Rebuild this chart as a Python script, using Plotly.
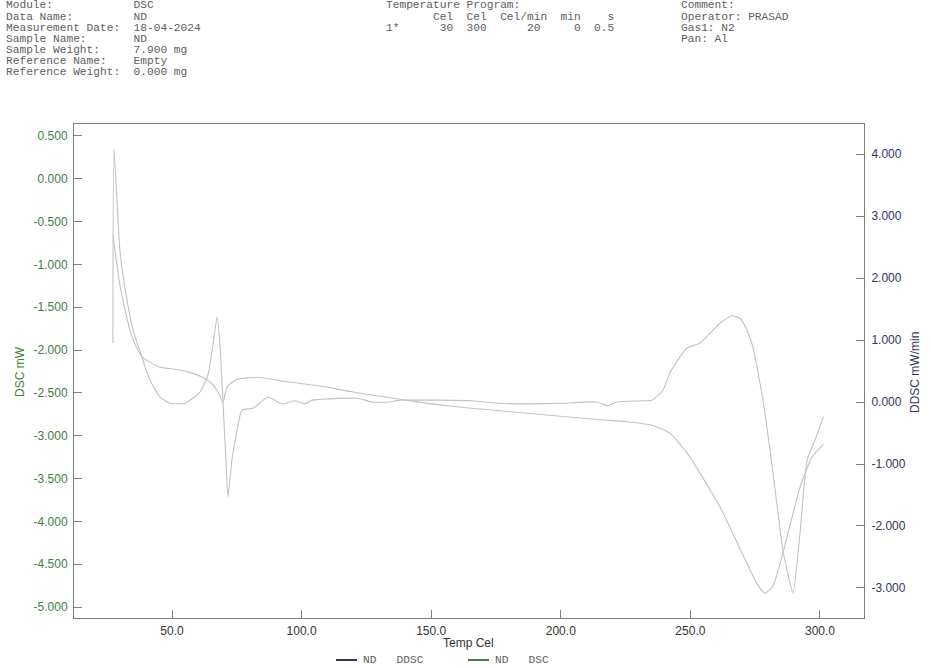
import plotly.graph_objects as go

# ---------------- data ----------------
ddsc_temp = [27.2, 27.6, 29.9, 32.6, 35.0, 37.7, 41.5, 45.4, 49.2, 55.0, 60.8, 63.9, 65.8, 67.4,
             68.5, 69.7, 70.8, 71.6, 73.1, 75.1, 77.0, 81.3, 87.0, 92.4, 97.5, 101.3, 104.0,
             121.4, 127.5, 134.1, 138.0, 146.8, 153.4, 166.1, 175.4, 188.1, 200.8, 214.0,
             218.2, 221.7, 231.7, 235.2, 239.4, 242.1, 245.2, 248.7, 253.7, 257.6, 261.4,
             266.0, 269.1, 271.8, 274.1, 278.0, 281.9, 285.7, 289.6, 292.3, 295.0, 298.1, 301.3]
ddsc_val = [0.95, 4.08, 2.45, 1.65, 1.16, 0.81, 0.35, 0.08, -0.02, -0.02, 0.16, 0.44, 0.92, 1.37,
            0.92, -0.02, -0.94, -1.53, -0.94, -0.45, -0.13, -0.10, 0.08, -0.03, 0.02, -0.03, 0.03,
            0.06, 0.0, 0.0, 0.03, 0.03, 0.03, 0.02, -0.02, -0.03, -0.02, 0.0,
            -0.06, 0.0, 0.02, 0.03, 0.19, 0.47, 0.68, 0.87, 0.95, 1.11, 1.27,
            1.39, 1.35, 1.16, 0.89, 0.03, -1.15, -2.39, -3.08, -2.11, -0.94, -0.61, -0.24]

dsc_temp = [27.2, 28.8, 29.9, 31.9, 33.8, 36.5, 38.8, 45.4, 50.4, 56.9, 62.0, 65.4, 67.7, 69.7,
            71.2, 75.1, 84.0, 94.4, 107.1, 119.8, 132.9, 145.7, 153.4, 162.3, 188.1, 214.0,
            226.7, 235.6, 242.1, 248.7, 261.4, 271.8, 276.1, 278.8, 281.9, 285.7, 292.3, 296.9, 301.3]
dsc_val = [-0.66, -1.01, -1.24, -1.53, -1.77, -1.98, -2.09, -2.20, -2.22, -2.26, -2.32, -2.39, -2.49, -2.61,
           -2.43, -2.34, -2.32, -2.37, -2.42, -2.49, -2.55, -2.61, -2.64, -2.67, -2.74, -2.81,
           -2.84, -2.88, -2.97, -3.20, -3.83, -4.49, -4.75, -4.84, -4.75, -4.37, -3.60, -3.25, -3.10]

x_ticks = [50, 100, 150, 200, 250, 300]
dsc_ticks = [0.5, 0.0, -0.5, -1.0, -1.5, -2.0, -2.5, -3.0, -3.5, -4.0, -4.5, -5.0]
ddsc_ticks = [4, 3, 2, 1, 0, -1, -2, -3]

header_labels = ["Module:", "Data Name:", "Measurement Date:", "Sample Name:",
                 "Sample Weight:", "Reference Name:", "Reference Weight:"]
header_values = ["DSC", "ND", "18-04-2024", "ND", "7.900 mg", "Empty", "0.000 mg"]
program_lines = ["Temperature Program:",
                 "       Cel  Cel  Cel/min  min    s",
                 "1*      30  300      20     0  0.5"]
comment_lines = ["Comment:", "Operator: PRASAD", "Gas1: N2", "Pan: Al"]
legend_names = ["ND   DDSC", "ND   DSC"]

# ---------------- layout geometry (pixel coords) ----------------
W, H = 931, 668
L, R, T, B = 74, 864, 124, 618
PW, PH = R - L, B - T

def px(x):
    return (x - L) / PW

def py(y):
    return (B - y) / PH

def nb(s):
    return s.replace(" ", "\u00a0")

CURVE = "#c2c2c2"
GREEN = "#3f803f"
NAVY = "#34345e"
AXIS = "#808080"
HDR = "#5e5e5e"
MONO = "Liberation Mono, Courier New"
SANS = "Liberation Sans, Arial"

fig = go.Figure()
fig.add_trace(go.Scatter(x=ddsc_temp, y=ddsc_val, mode="lines", yaxis="y2", name="ND DDSC",
                         line=dict(color=CURVE, width=1.1, shape="spline", smoothing=0.5),
                         showlegend=False, hoverinfo="skip"))
fig.add_trace(go.Scatter(x=dsc_temp, y=dsc_val, mode="lines", yaxis="y", name="ND DSC",
                         line=dict(color=CURVE, width=1.1, shape="spline", smoothing=0.5),
                         showlegend=False, hoverinfo="skip"))

def fmt(v, d):
    return f"{v:.{d}f}"

ann = []
for i, (lab, val) in enumerate(zip(header_labels, header_values)):
    ann.append(dict(text=nb(lab.ljust(19) + val), x=px(5), y=py(5.5 + 11.15 * i)))
for i, s in enumerate(program_lines):
    ann.append(dict(text=nb(s), x=px(385), y=py(5.5 + 11.15 * i)))
for i, s in enumerate(comment_lines):
    ann.append(dict(text=nb(s), x=px(680), y=py(5.5 + 11.15 * i)))
for a in ann:
    a.update(xref="paper", yref="paper", xanchor="left", yanchor="middle", showarrow=False,
             borderpad=0, font=dict(family=MONO, size=11.2, color=HDR))

ann.append(dict(text="DSC mW", x=px(20), y=py(372), xref="paper", yref="paper", textangle=-90,
                xanchor="center", yanchor="middle",
                showarrow=False, font=dict(family=SANS, size=12, color=GREEN)))
ann.append(dict(text="DDSC mW/min", x=px(915), y=py(372), xref="paper", yref="paper", textangle=-90,
                xanchor="center", yanchor="middle",
                showarrow=False, font=dict(family=SANS, size=12, color=NAVY)))
ann.append(dict(text="Temp Cel", x=px(468), y=py(643), xref="paper", yref="paper",
                xanchor="center", yanchor="middle",
                showarrow=False, font=dict(family=SANS, size=12, color="#333333")))

# manual legend (line swatch + text)
shapes = []
leg_items = [(336, 357, 362, NAVY, legend_names[0]), (468, 489, 494, GREEN, legend_names[1])]
for x0, x1, xt, col, name in leg_items:
    shapes.append(dict(type="line", xref="paper", yref="paper", x0=px(x0), x1=px(x1),
                       y0=py(660), y1=py(660), line=dict(color=col, width=2)))
    ann.append(dict(text=nb(name), x=px(xt), y=py(660), xref="paper", yref="paper",
                    xanchor="left", yanchor="middle", showarrow=False, borderpad=0,
                    font=dict(family=MONO, size=11.2, color=HDR)))

fig.update_layout(
    width=W, height=H,
    margin=dict(l=L, r=W - R, t=T, b=H - B, pad=0),
    paper_bgcolor="white", plot_bgcolor="white",
    xaxis=dict(range=[12.19, 316.98], tickvals=x_ticks, ticktext=[fmt(v, 1) for v in x_ticks],
               ticks="inside", ticklen=8, tickcolor=AXIS, showline=True, linecolor=AXIS,
               linewidth=1, mirror=True, showgrid=False, zeroline=False, ticklabelstandoff=2,
               tickfont=dict(color="#333333", family=SANS, size=12)),
    yaxis=dict(range=[-5.128, 0.640], tickvals=dsc_ticks, ticktext=[fmt(v, 3) for v in dsc_ticks],
               ticks="inside", ticklen=8, tickcolor=AXIS, showline=True, linecolor=AXIS,
               linewidth=1, showgrid=False, zeroline=False, ticklabelstandoff=3,
               tickfont=dict(color=GREEN, family=SANS, size=12)),
    yaxis2=dict(range=[-3.484, 4.484], tickvals=ddsc_ticks, ticktext=[fmt(v, 3) for v in ddsc_ticks],
                overlaying="y", side="right", ticks="inside", ticklen=8, tickcolor=AXIS,
                showline=True, linecolor=AXIS, linewidth=1, showgrid=False, zeroline=False,
                ticklabelstandoff=4, tickfont=dict(color=NAVY, family=SANS, size=12)),
    annotations=ann,
    shapes=shapes,
    showlegend=False,
)

fig.write_html("out.html", config={"displayModeBar": False},
               post_script="document.body.style.margin='0';document.body.style.overflow='hidden';")
